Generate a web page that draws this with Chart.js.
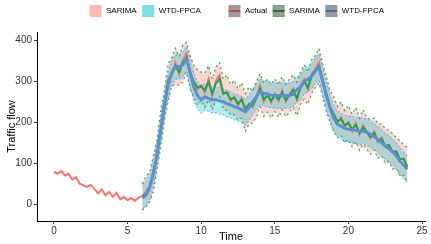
<!DOCTYPE html>
<html>
<head>
<meta charset="utf-8">
<script src="https://cdn.jsdelivr.net/npm/chart.js@4.4.1/dist/chart.umd.min.js"></script>
<style>
  html, body { margin: 0; padding: 0; background: #fff; }
  #wrap { width: 431px; height: 244px; }
</style>
</head>
<body>
<div id="wrap"><canvas id="chart"></canvas></div>
<script>
// time step of the series (hours) and start of the forecast window
const step = 0.25;
const forecastStart = 6;

const xTicks = [0, 5, 10, 15, 20, 25];
const yTicks = [0, 100, 200, 300, 400];

// observed traffic flow, 0h .. 24h
const actual = [
  80, 74, 81, 70, 74, 60, 66, 50, 46, 42, 47, 38, 26, 36, 22, 30, 18, 28, 12, 18, 10, 15, 8, 16,
  20, 30, 42, 78, 120, 190, 240, 305, 318, 345, 318, 352, 368, 318, 300, 280, 290, 272, 305, 265,
  300, 315, 268, 275, 252, 262, 240, 258, 228, 245, 236, 262, 290, 250, 270, 248, 270, 252, 278, 250,
  268, 282, 255, 290, 305, 280, 318, 330, 345, 300, 270, 235, 220, 198, 212, 190, 200, 178, 198, 170,
  192, 176, 160, 178, 152, 162, 140, 145, 125, 130, 108, 112, 90
];

// forecasts, 6h .. 24h
const sarima = [
  18, 26, 44, 74, 122, 182, 238, 298, 320, 338, 322, 345, 358, 322, 298, 285, 288, 278, 298, 270,
  295, 305, 270, 272, 256, 260, 245, 255, 232, 244, 240, 258, 282, 255, 266, 252, 266, 255, 272, 254,
  266, 278, 258, 285, 300, 284, 312, 326, 338, 302, 270, 238, 220, 202, 208, 192, 198, 182, 194, 174,
  188, 176, 164, 174, 154, 160, 142, 144, 128, 128, 110, 110, 92
];
const sarimaUpper = [
  50, 68, 78, 118, 158, 225, 276, 342, 356, 380, 360, 388, 395, 362, 338, 328, 322, 320, 338, 305,
  335, 345, 305, 315, 292, 302, 282, 296, 270, 286, 276, 300, 318, 296, 304, 292, 305, 295, 310, 292,
  306, 316, 298, 322, 340, 322, 352, 362, 380, 342, 312, 276, 262, 238, 250, 228, 240, 220, 236, 210,
  230, 212, 206, 210, 196, 196, 184, 180, 172, 162, 155, 145, 138
];
const sarimaLower = [
  -14, -8, 6, 30, 86, 138, 204, 250, 288, 292, 290, 298, 322, 280, 262, 242, 252, 236, 255, 230,
  254, 262, 232, 228, 218, 218, 206, 210, 178, 196, 198, 212, 238, 214, 224, 210, 226, 212, 230, 214,
  224, 236, 216, 244, 256, 244, 270, 284, 296, 262, 226, 200, 178, 162, 168, 150, 158, 140, 152, 132,
  146, 134, 122, 132, 112, 118, 100, 104, 86, 88, 68, 70, 52
];
const wtd = [
  15, 22, 40, 75, 120, 180, 240, 290, 320, 335, 335, 340, 355, 320, 285, 265, 255, 262, 258, 255,
  255, 252, 250, 245, 242, 238, 235, 230, 225, 235, 250, 262, 275, 270, 268, 266, 265, 265, 264, 265,
  265, 268, 280, 285, 300, 305, 312, 325, 335, 300, 265, 235, 210, 195, 190, 185, 183, 182, 180, 178,
  178, 176, 170, 165, 158, 150, 142, 135, 128, 118, 105, 95, 85
];
const wtdUpper = [
  48, 55, 72, 105, 150, 210, 270, 320, 350, 365, 365, 370, 385, 352, 318, 298, 288, 294, 290, 287,
  287, 284, 282, 277, 274, 270, 267, 262, 257, 266, 281, 293, 306, 301, 299, 297, 296, 296, 295, 296,
  296, 299, 311, 316, 331, 336, 343, 356, 366, 332, 297, 267, 242, 227, 222, 217, 215, 214, 212, 210,
  210, 208, 202, 197, 190, 182, 174, 167, 160, 150, 138, 128, 118
];
const wtdLower = [
  -10, -8, 10, 45, 90, 150, 210, 260, 290, 305, 305, 310, 325, 288, 252, 232, 222, 230, 226, 223,
  223, 220, 218, 213, 210, 206, 203, 198, 193, 204, 219, 231, 244, 239, 237, 235, 234, 234, 233, 234,
  234, 237, 249, 254, 269, 274, 281, 294, 304, 268, 233, 203, 178, 163, 158, 153, 151, 150, 148, 146,
  146, 144, 138, 133, 126, 118, 110, 103, 96, 86, 72, 62, 52
];

function toPoints(values, start) {
  return values.map((v, i) => ({ x: start + i * step, y: v }));
}

// legend keys
function keyCanvas(fill, border, line) {
  const c = document.createElement("canvas");
  c.width = 14;
  c.height = 14;
  const g = c.getContext("2d");
  if (fill) {
    g.fillStyle = fill;
    g.fillRect(1, 1, 12, 12);
  }
  if (border) {
    g.strokeStyle = border;
    g.lineWidth = 1;
    g.setLineDash([2, 2]);
    g.strokeRect(1.5, 1.5, 11, 11);
  }
  if (line) {
    g.setLineDash([]);
    g.strokeStyle = line;
    g.lineWidth = 2;
    g.beginPath();
    g.moveTo(1, 7);
    g.lineTo(13, 7);
    g.stroke();
  }
  return c;
}

const legendItems = [
  { text: "SARIMA", pointStyle: keyCanvas("rgba(248,118,109,0.5)") },
  { text: "WTD-FPCA", pointStyle: keyCanvas("rgba(0,191,196,0.5)") },
  { text: "", pointStyle: keyCanvas(null) },
  { text: "Actual", pointStyle: keyCanvas("#9a9a9a", "#F8766D", "#a8524c") },
  { text: "SARIMA", pointStyle: keyCanvas("#9a9a9a", "#22b14c", "#1d6e3a") },
  { text: "WTD-FPCA", pointStyle: keyCanvas("#9a9a9a", "#619CFF", "#4a6a9e") }
];

const ctx = document.getElementById("chart");

new Chart(ctx, {
  type: "line",
  data: {
    datasets: [
      {
        label: "WTD-FPCA",
        data: toPoints(wtd, forecastStart),
        borderColor: "#5b8fcf",
        borderWidth: 3,
        order: 0
      },
      {
        label: "SARIMA",
        data: toPoints(sarima, forecastStart),
        borderColor: "#23a050",
        borderWidth: 2,
        order: 1
      },
      {
        label: "Actual",
        data: toPoints(actual, 0),
        borderColor: "#F8766D",
        borderWidth: 2,
        order: 2
      },
      {
        label: "WTD upper",
        data: toPoints(wtdUpper, forecastStart),
        borderColor: "#6aa3f5",
        borderWidth: 1,
        borderDash: [2, 2],
        backgroundColor: "rgba(0,191,196,0.3)",
        fill: "+1",
        order: 3
      },
      {
        label: "WTD lower",
        data: toPoints(wtdLower, forecastStart),
        borderColor: "#6aa3f5",
        borderWidth: 1,
        borderDash: [2, 2],
        order: 3
      },
      {
        label: "SARIMA upper",
        data: toPoints(sarimaUpper, forecastStart),
        borderColor: "#2db34a",
        borderWidth: 1.3,
        borderDash: [2, 3],
        backgroundColor: "rgba(248,118,109,0.3)",
        fill: "+1",
        order: 4
      },
      {
        label: "SARIMA lower",
        data: toPoints(sarimaLower, forecastStart),
        borderColor: "#2db34a",
        borderWidth: 1.3,
        borderDash: [2, 3],
        order: 4
      }
    ]
  },
  options: {
    responsive: true,
    maintainAspectRatio: false,
    animation: false,
    devicePixelRatio: 1,
    elements: {
      point: { radius: 0 },
      line: { tension: 0 }
    },
    layout: {
      padding: { left: 0, right: 6, top: 9, bottom: 0 }
    },
    scales: {
      x: {
        type: "linear",
        min: -1.15,
        max: 25.2,
        afterBuildTicks: (scale) => {
          scale.ticks = xTicks.map((v) => ({ value: v }));
        },
        afterFit: (scale) => {
          scale.height = 23;
        },
        grid: {
          drawOnChartArea: false,
          drawTicks: true,
          tickLength: 3,
          color: "#333"
        },
        border: { color: "#000", width: 1 },
        ticks: {
          color: "#333",
          padding: 1,
          maxRotation: 0,
          font: { family: "Liberation Sans", size: 10 }
        },
        title: {
          display: true,
          text: "Time",
          color: "#000",
          padding: 0,
          font: { family: "Liberation Sans", size: 11 }
        }
      },
      y: {
        min: -41,
        max: 420,
        afterBuildTicks: (scale) => {
          scale.ticks = yTicks.map((v) => ({ value: v }));
        },
        afterFit: (scale) => {
          scale.width = 37;
        },
        grid: {
          drawOnChartArea: false,
          drawTicks: true,
          tickLength: 3,
          color: "#333"
        },
        border: { color: "#000", width: 1 },
        ticks: {
          color: "#333",
          padding: 2,
          font: { family: "Liberation Sans", size: 10 }
        },
        title: {
          display: true,
          text: "Traffic flow",
          color: "#000",
          padding: { top: 5, bottom: 0 },
          font: { family: "Liberation Sans", size: 11 }
        }
      }
    },
    plugins: {
      tooltip: { enabled: false },
      legend: {
        position: "top",
        align: "center",
        onClick: null,
        labels: {
          usePointStyle: true,
          pointStyleWidth: 13,
          boxHeight: 12,
          padding: 5,
          color: "#222",
          font: { family: "Liberation Sans", size: 8 },
          generateLabels: () =>
            legendItems.map((item, i) => ({
              text: item.text,
              pointStyle: item.pointStyle,
              fillStyle: "rgba(0,0,0,0)",
              strokeStyle: "rgba(0,0,0,0)",
              lineWidth: 0,
              hidden: false,
              index: i
            }))
        }
      }
    }
  },
  plugins: [
    {
      id: "legendShift",
      afterLayout(chart) {
        chart.legend.left += 48;
        chart.legend.top -= 7;
      }
    }
  ]
});
</script>
</body>
</html>
